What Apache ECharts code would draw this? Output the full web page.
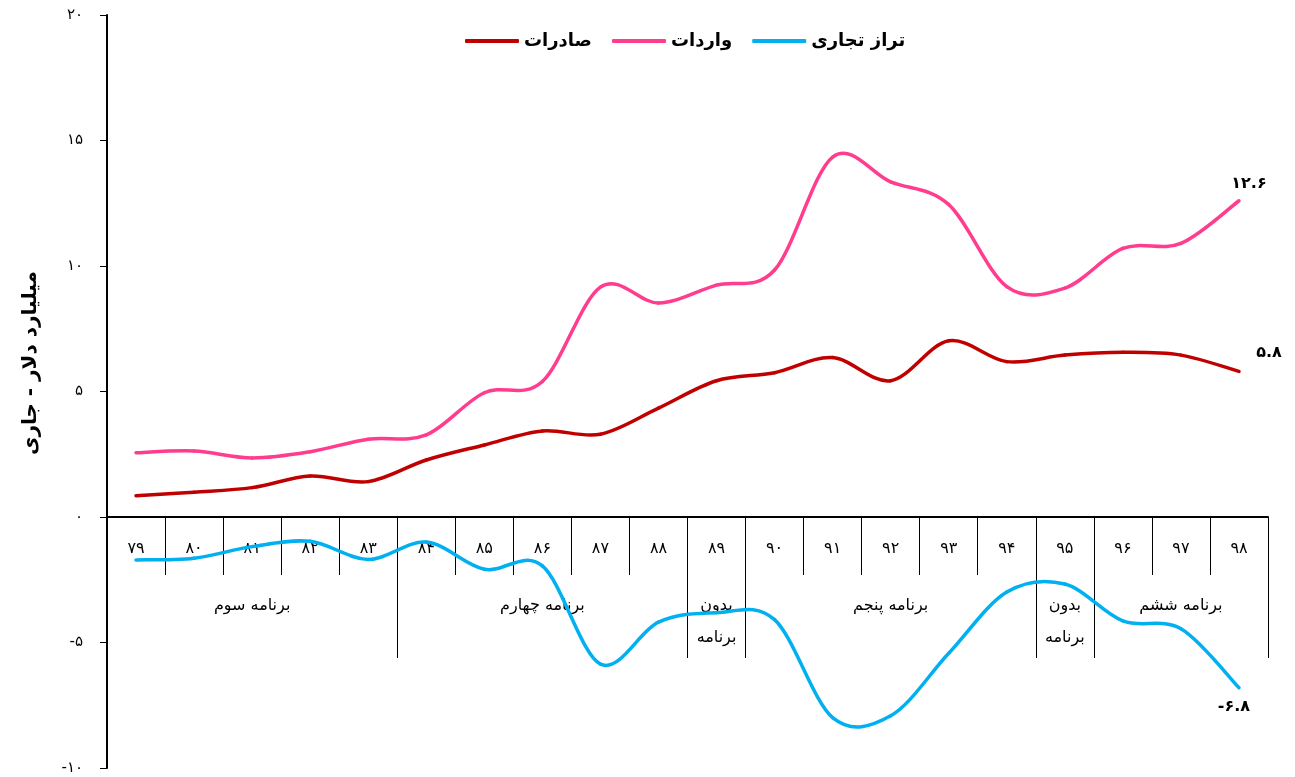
<!DOCTYPE html>
<html lang="fa">
<head>
    <meta charset="UTF-8">
    <title>تراز تجاری</title>
</head>
<body style="margin:0">
<div id="main" style="height: 777px;width: 1295px"></div>
<script src="https://cdn.jsdelivr.net/npm/echarts@6/dist/echarts.min.js"></script>
<script>
    var years = ['79', '80', '81', '82', '83', '84', '85', '86', '87', '88',
        '89', '90', '91', '92', '93', '94', '95', '96', '97', '98'];
    // برچسب برنامه ها، وسط هر گروه
    var planLabels = ['', '', 'برنامه سوم', '', '', '', '', 'برنامه چهارم', '', '',
        'بدون\nبرنامه', '', '', 'برنامه پنجم', '', '', 'بدون\nبرنامه', '', 'برنامه ششم', ''];
    var planStarts = [0, 5, 10, 11, 16, 17];

    var exportsData = [0.85, 0.99, 1.17, 1.63, 1.41, 2.27, 2.87, 3.43, 3.3, 4.34,
        5.43, 5.75, 6.35, 5.43, 7.02, 6.19, 6.45, 6.56, 6.45, 5.8];
    var importsData = [2.56, 2.63, 2.35, 2.6, 3.1, 3.27, 4.95, 5.4, 9.16, 8.53,
        9.24, 9.84, 14.34, 13.35, 12.45, 9.18, 9.12, 10.7, 10.9, 12.6];
    var balanceData = [-1.71, -1.64, -1.18, -0.97, -1.69, -1.0, -2.08, -1.95, -5.86, -4.19,
        -3.81, -4.09, -7.99, -7.92, -5.43, -2.99, -2.67, -4.14, -4.45, -6.8];

    var faFont = 'DejaVu Sans';
    var yMin = -10, yMax = 20;
    var gridTop = 15, gridBottom = 9;

    function toFa(s) {
        return String(s).replace(/[0-9]/g, function (d) {
            return '۰۱۲۳۴۵۶۷۸۹'[d];
        });
    }

    var myChart = echarts.init(document.getElementById('main'));

    // محور افقی روی خط صفر: فاصله از پایین گرید
    var gridHeight = myChart.getHeight() - gridTop - gridBottom;
    var zeroOffset = -gridHeight * (0 - yMin) / (yMax - yMin);

    // منحنی هموار مثل اکسل (کتمول-رام) روی مختصات خود محورها
    function curveSeries(name, values, color, labelShift) {
        return {
            name: name,
            type: 'custom',
            coordinateSystem: 'cartesian2d',
            itemStyle: {color: color},
            data: values.map(function (v, i) {
                return [i, v];
            }),
            encode: {x: 0, y: 1},
            renderItem: function (params, api) {
                var idx = params.dataIndex;
                var n = values.length;
                if (idx === 0) {
                    var pts = values.map(function (v, i) {
                        return api.coord([i, v]);
                    });
                    var parts = [];
                    for (var i = 0; i < n - 1; i++) {
                        var p0 = pts[Math.max(i - 1, 0)], p1 = pts[i], p2 = pts[i + 1],
                            p3 = pts[Math.min(i + 2, n - 1)];
                        parts.push({
                            type: 'bezierCurve',
                            shape: {
                                x1: p1[0], y1: p1[1], x2: p2[0], y2: p2[1],
                                cpx1: p1[0] + (p2[0] - p0[0]) / 6,
                                cpy1: p1[1] + (p2[1] - p0[1]) / 6,
                                cpx2: p2[0] - (p3[0] - p1[0]) / 6,
                                cpy2: p2[1] - (p3[1] - p1[1]) / 6
                            },
                            style: {fill: null, stroke: color, lineWidth: 3.5, lineCap: 'round'}
                        });
                    }
                    return {type: 'group', children: parts};
                }
                if (idx === n - 1) {
                    var p = api.coord([idx, values[idx]]);
                    return {
                        type: 'text',
                        x: p[0] + labelShift[0],
                        y: p[1] + labelShift[1],
                        style: {
                            text: toFa(values[idx]),
                            fontFamily: faFont,
                            fontWeight: 'bold',
                            fontSize: 16,
                            fill: '#000',
                            align: 'center',
                            verticalAlign: 'middle'
                        }
                    };
                }
                return null;
            }
        };
    }

    var option = {
        animation: false,
        grid: {left: 107, right: 27, top: gridTop, bottom: gridBottom, outerBoundsMode: 'none'},
        legend: {
            left: 460,
            top: 27,
            icon: 'roundRect',
            itemWidth: 54,
            itemHeight: 4,
            itemGap: 20,
            data: ['صادرات', 'واردات', 'تراز تجاری'],
            textStyle: {fontFamily: faFont, fontWeight: 'bold', fontSize: 18, color: '#000'}
        },
        xAxis: [{
            type: 'category',
            data: years,
            boundaryGap: true,
            position: 'bottom',
            offset: zeroOffset,
            axisLine: {onZero: false, lineStyle: {color: '#000', width: 2}},
            axisTick: {show: true, interval: 0, length: 58, lineStyle: {color: '#000', width: 1}},
            axisLabel: {
                interval: 0,
                margin: 24,
                fontFamily: faFont,
                fontSize: 16,
                color: '#000',
                formatter: toFa
            },
            splitLine: {show: false}
        }, {
            type: 'category',
            data: planLabels,
            boundaryGap: true,
            position: 'bottom',
            offset: zeroOffset,
            axisLine: {show: false, onZero: false},
            axisTick: {
                show: true,
                length: 141,
                lineStyle: {color: '#000', width: 1},
                interval: function (index) {
                    return planStarts.indexOf(index) >= 0;
                }
            },
            axisLabel: {
                interval: 0,
                margin: 73,
                fontFamily: faFont,
                fontSize: 16,
                lineHeight: 32,
                color: '#000'
            },
            splitLine: {show: false}
        }],
        yAxis: {
            type: 'value',
            min: yMin,
            max: yMax,
            interval: 5,
            axisLine: {show: true, onZero: false, lineStyle: {color: '#000', width: 2}},
            axisTick: {show: true, length: 7, lineStyle: {color: '#000', width: 1}},
            axisLabel: {
                margin: 24,
                fontFamily: faFont,
                fontSize: 15,
                color: '#000',
                formatter: function (v) {
                    return toFa(v);
                }
            },
            splitLine: {show: false}
        },
        graphic: [{
            type: 'text',
            x: 31,
            y: 363,
            rotation: Math.PI / 2,
            style: {
                text: 'میلیارد دلار - جاری',
                fontFamily: faFont,
                fontWeight: 'bold',
                fontSize: 20,
                fill: '#000',
                align: 'center',
                verticalAlign: 'middle'
            }
        }],
        series: [
            curveSeries('صادرات', exportsData, '#C00000', [30, -19]),
            curveSeries('واردات', importsData, '#FF3C8E', [10, -17]),
            curveSeries('تراز تجاری', balanceData, '#00B0F0', [-5, 19])
        ]
    };

    myChart.setOption(option);
</script>
</body>
</html>
